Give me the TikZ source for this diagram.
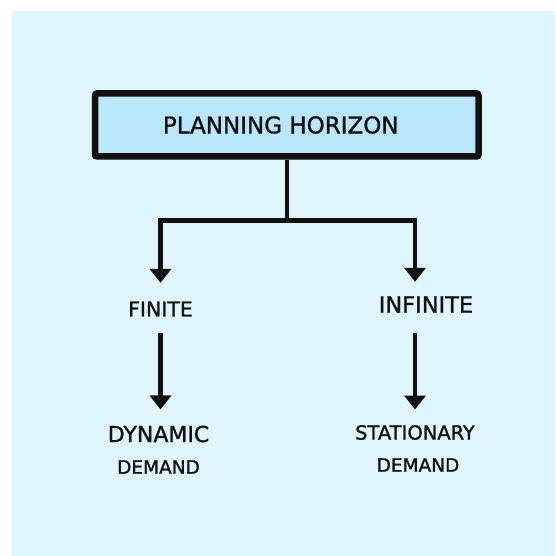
\documentclass[tikz,border=0pt]{standalone}
\usepackage{fontspec}
\setmainfont{DejaVu Sans}
\newfontface\handfont{DejaVu Sans}[FakeBold=1.2]
\usetikzlibrary{arrows.meta}
\definecolor{bgblue}{RGB}{224,244,252}
\definecolor{boxblue}{RGB}{185,230,250}
\definecolor{ink}{RGB}{17,17,17}
\begin{document}
\begin{tikzpicture}[x=1pt,y=-1pt,
  ln/.style={draw=ink,line width=4.5pt},
  ar/.style={draw=ink,line width=4.5pt,-{Triangle[width=21pt,length=14pt]}},
  lbl/.style={inner sep=0pt,text=ink,font=\handfont\fontsize{#1}{#1}\selectfont},
  titlebox/.style={draw=ink,line width=6.5pt,fill=boxblue,rounded corners=2pt,
    minimum width=383.5pt,minimum height=63pt,inner sep=0pt,text=ink,
    font=\handfont\fontsize{23}{23}\selectfont}]
\useasboundingbox (0,0) rectangle (555,556);
\fill[bgblue] (12,11) rectangle (555,556);
\node[titlebox] (title) at (286.75,125) {PLANNING HORIZON\hspace*{12pt}};
\node[lbl=20.5] (finite) at (160.5,309) {FINITE};
\node[lbl=22.5] (infinite) at (426,304.5) {INFINITE};
\node[lbl=22] (dyn) at (158.5,434) {DYNAMIC};
\node[lbl=18.5] (dem1) at (158.5,467) {DEMAND};
\node[lbl=19.5] (stat) at (415,432.5) {STATIONARY};
\node[lbl=18.5] (dem2) at (418,465) {DEMAND};
\coordinate (j) at (title.south |- 0,220.5);
\draw[ln] (title.south) -- (j);
\draw[ar,shorten >=18.5pt] (j) -| (finite.north);
\draw[ar,shorten >=14.3pt] (j) -| (stat.north |- infinite.north);
\draw[ar,shorten <=16.5pt,shorten >=16pt] (finite.south) -- (finite.south |- dyn.north);
\draw[ar,shorten <=20.3pt,shorten >=15.4pt] (stat.north |- infinite.south) -- (stat.north);
\end{tikzpicture}
\end{document}
